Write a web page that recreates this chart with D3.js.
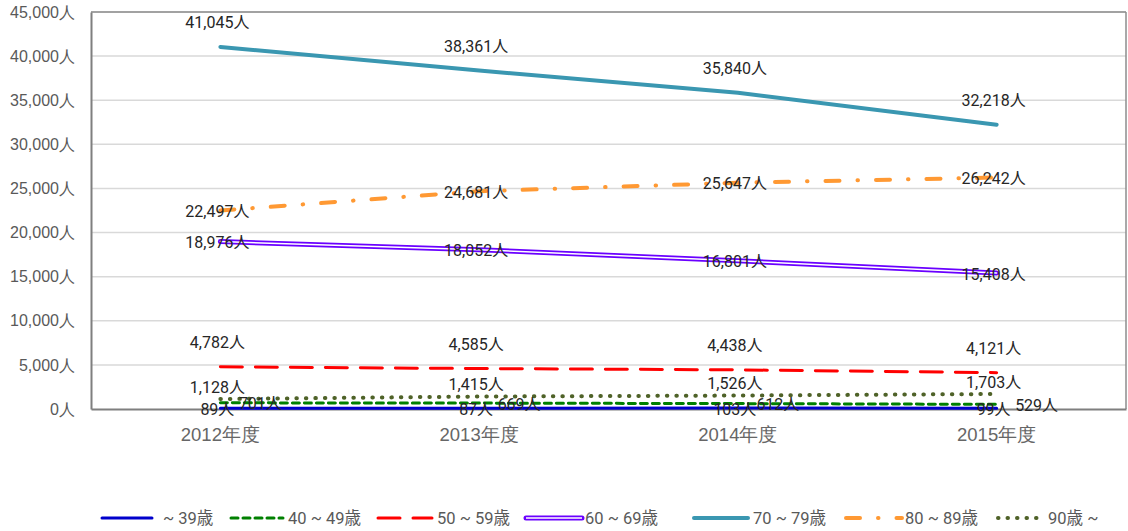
<!DOCTYPE html>
<html lang="ja">
<head>
<meta charset="UTF-8">
<title>年齢別 人数推移</title>
<script src="https://d3js.org/d3.v7.min.js"></script>
<style>
  body { margin: 0; background: #fff; }
  svg { font-family: Roboto, "Noto Sans CJK JP", sans-serif; }
  .tick text { fill: #595959; font-size: 16px; }
  .xax .tick text { font-size: 18.5px; fill: #666; }
  .lbl { fill: #262626; font-size: 16px; }
  .leg { fill: #595959; font-size: 16.5px; }
</style>
</head>
<body>
<svg width="1128" height="531"></svg>
<script>
// データ
const years = ["2012年度", "2013年度", "2014年度", "2015年度"];
const under39 = [89, 87, 103, 99];
const age40s = [701, 669, 612, 529];
const age50s = [4782, 4585, 4438, 4121];
const age60s = [18976, 18052, 16801, 15408];
const age70s = [41045, 38361, 35840, 32218];
const age80s = [22497, 24681, 25647, 26242];
const over90 = [1128, 1415, 1526, 1703];
const yTicks = [0, 5000, 10000, 15000, 20000, 25000, 30000, 35000, 40000, 45000];

const series = [
  { name: "~ 39歳", values: under39, color: "#0000cc", width: 3, dash: null, lbl: "center" },
  { name: "40 ~ 49歳", values: age40s, color: "#008000", width: 3, dash: "7,5", lbl: "right" },
  { name: "50 ~ 59歳", values: age50s, color: "#ff0000", width: 3, dash: "22,13", lbl: "above" },
  { name: "60 ~ 69歳", values: age60s, color: "#6a00ff", width: 5, dash: null, double: true, lbl: "center" },
  { name: "70 ~ 79歳", values: age70s, color: "#3a97b1", width: 4, dash: null, lbl: "above" },
  { name: "80 ~ 89歳", values: age80s, color: "#ff9933", width: 4, dash: "14,18,0.5,18", lbl: "center" },
  { name: "90歳 ~", values: over90, color: "#4f6228", width: 4, dash: "0.5,9", lbl: "above2" }
];

const svg = d3.select("svg");
const margin = { left: 91, right: 2, top: 12, bottom: 122 };
const W = 1128, H = 531;

const x = d3.scaleBand().domain(years).range([margin.left, W - margin.right]);
const y = d3.scaleLinear().domain([0, 45000]).range([H - margin.bottom, margin.top]);
const cx = d => x(d) + x.bandwidth() / 2;

// グリッド
svg.append("g")
  .selectAll("line")
  .data(yTicks.slice(1))
  .enter().append("line")
  .attr("x1", margin.left).attr("x2", W - margin.right)
  .attr("y1", d => y(d)).attr("y2", d => y(d))
  .attr("stroke", "#d9d9d9").attr("stroke-width", 1.5);

// 枠
svg.append("line")
  .attr("x1", W - margin.right).attr("x2", W - margin.right)
  .attr("y1", margin.top).attr("y2", y(0))
  .attr("stroke", "#8c8c8c").attr("stroke-width", 1.5);
svg.append("line")
  .attr("x1", margin.left).attr("x2", W - margin.right)
  .attr("y1", margin.top).attr("y2", margin.top)
  .attr("stroke", "#8c8c8c").attr("stroke-width", 1.5);

// 軸
const yAxis = svg.append("g")
  .attr("transform", `translate(${margin.left},0)`)
  .call(d3.axisLeft(y).tickValues(yTicks).tickSize(0).tickPadding(16)
    .tickFormat(d => d3.format(",")(d) + "人"));
yAxis.select(".domain").attr("stroke", "#7f7f7f").attr("stroke-width", 2);

const xAxis = svg.append("g")
  .attr("class", "xax")
  .attr("transform", `translate(0,${y(0)})`)
  .call(d3.axisBottom(x).tickSize(0).tickPadding(19));
xAxis.select(".domain").attr("stroke", "#7f7f7f").attr("stroke-width", 2);

// 線
const line = d3.line().x((d, i) => cx(years[i])).y(d => y(d));
series.forEach(s => {
  const p = svg.append("path")
    .attr("d", line(s.values))
    .attr("fill", "none")
    .attr("stroke", s.color)
    .attr("stroke-width", s.width)
    .attr("stroke-linecap", "round");
  if (s.dash) p.attr("stroke-dasharray", s.dash);
  if (s.double) {
    svg.append("path")
      .attr("d", line(s.values))
      .attr("fill", "none")
      .attr("stroke", "#fff")
      .attr("stroke-width", 1.5)
      .attr("stroke-linecap", "round");
  }
});

// ラベル
series.forEach(s => {
  svg.append("g")
    .selectAll("text")
    .data(s.values)
    .enter().append("text")
    .attr("class", "lbl")
    .attr("x", (d, i) => cx(years[i]) + (s.lbl === "right" ? 40 : -3))
    .attr("y", d => y(d) + (s.lbl === "above" ? -24 : s.lbl === "above2" ? -12 : 1))
    .attr("dy", "0.35em")
    .attr("text-anchor", "middle")
    .text(d => d3.format(",")(d) + "人");
});

// 凡例
const legX = [102, 231, 378, 526, 694, 846, 998];
const legW = [50, 52, 54, 56, 54, 56, 40];
const legT = [163, 288, 437, 585, 753, 905, 1048];
const leg = svg.append("g").attr("transform", "translate(0,518)");
series.forEach((s, i) => {
  const g = leg.append("g");
  g.append("line")
    .attr("x1", legX[i]).attr("x2", legX[i] + legW[i])
    .attr("stroke", s.color).attr("stroke-width", s.width)
    .attr("stroke-linecap", "round")
    .attr("stroke-dasharray", s.dash);
  if (s.double) {
    g.append("line")
      .attr("x1", legX[i]).attr("x2", legX[i] + legW[i])
      .attr("stroke", "#fff").attr("stroke-width", 1.5);
  }
  g.append("text")
    .attr("class", "leg")
    .attr("x", legT[i])
    .attr("dy", "0.35em")
    .text(s.name);
});
</script>
</body>
</html>
